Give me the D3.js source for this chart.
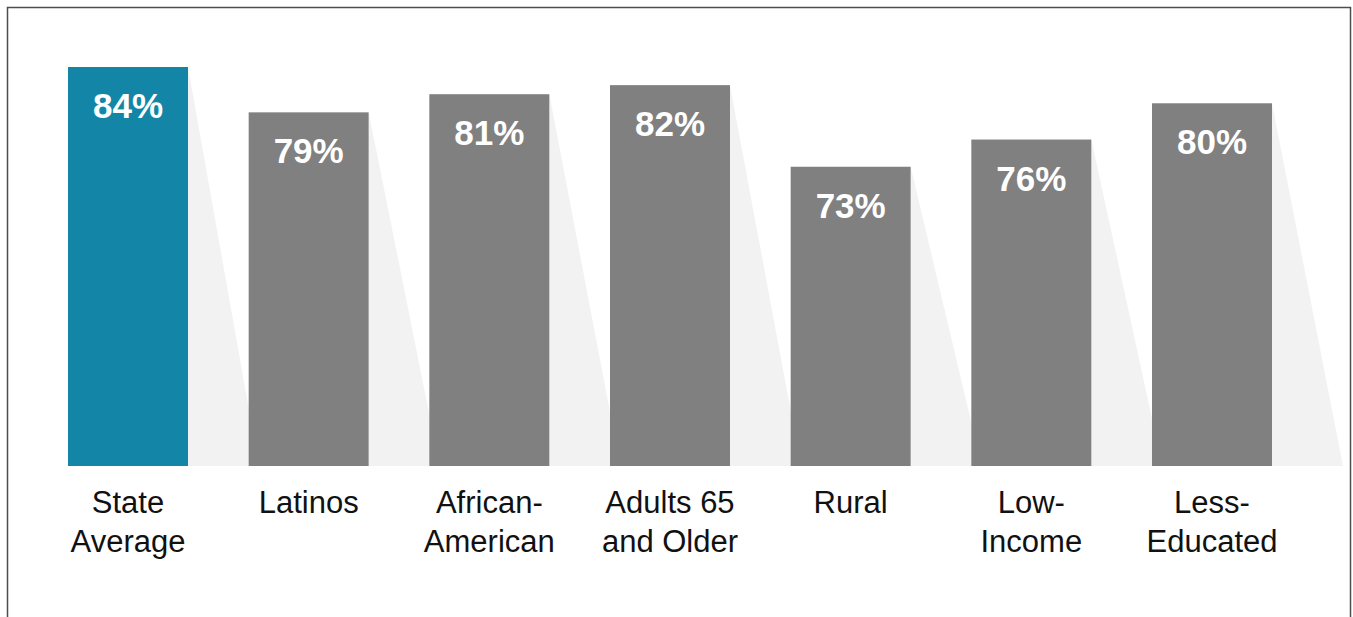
<!DOCTYPE html>
<html>
<head>
<meta charset="utf-8">
<script src="https://cdn.jsdelivr.net/npm/d3@7"></script>
<style>
  html, body { margin: 0; padding: 0; background: #fff; }
  svg { display: block; }
</style>
</head>
<body>
<script>
// chart data
const categories = ["State Average", "Latinos", "African-American", "Adults 65 and Older", "Rural", "Low-Income", "Less-Educated"];
const labelLines = [["State", "Average"], ["Latinos"], ["African-", "American"], ["Adults 65", "and Older"], ["Rural"], ["Low-", "Income"], ["Less-", "Educated"]];
const values = [84, 79, 81, 82, 73, 76, 80];

const width = 1353, height = 617;
const baseline = 466;

const svg = d3.select("body").append("svg")
  .attr("width", width)
  .attr("height", height);

// frame
svg.append("rect")
  .attr("x", 7.5).attr("y", 7.5)
  .attr("width", 1343).attr("height", 640)
  .attr("fill", "none")
  .attr("stroke", "#4d4d4d")
  .attr("stroke-width", 1.5);

const x = d3.scaleBand()
  .domain(categories)
  .range([68, 1272])
  .paddingInner(0.3358)
  .paddingOuter(0);

const y = d3.scaleLinear()
  .domain([40, 84])
  .range([baseline, 67]);

const shadowOffset = 71;

// shadows behind bars
svg.append("g").selectAll("path")
  .data(values)
  .join("path")
  .attr("d", (d, i) => {
    const r = x(categories[i]) + x.bandwidth();
    return `M${r},${y(d)}L${r + shadowOffset},${baseline}L${r},${baseline}Z`;
  })
  .attr("fill", "#f2f2f2");

// bars
svg.append("g").selectAll("rect")
  .data(values)
  .join("rect")
  .attr("x", (d, i) => x(categories[i]))
  .attr("y", d => y(d))
  .attr("width", x.bandwidth())
  .attr("height", d => baseline - y(d))
  .attr("fill", (d, i) => i === 0 ? "#1386a8" : "#808080");

// value labels
svg.append("g").selectAll("text")
  .data(values)
  .join("text")
  .attr("x", (d, i) => x(categories[i]) + x.bandwidth() / 2)
  .attr("y", d => y(d) + 51)
  .attr("text-anchor", "middle")
  .attr("font-family", "Liberation Sans, Arial, sans-serif")
  .attr("font-weight", "bold")
  .attr("font-size", 35)
  .attr("fill", "#fff")
  .text(d => d + "%");

// category labels
const cat = svg.append("g").selectAll("text")
  .data(categories)
  .join("text")
  .attr("x", d => x(d) + x.bandwidth() / 2)
  .attr("y", 513)
  .attr("text-anchor", "middle")
  .attr("font-family", "Liberation Sans, Arial, sans-serif")
  .attr("font-size", 31)
  .attr("fill", "#111");

cat.selectAll("tspan")
  .data((d, i) => labelLines[i])
  .join("tspan")
  .attr("x", function() { return this.parentNode.getAttribute("x"); })
  .attr("dy", (d, j) => j === 0 ? 0 : 39)
  .text(d => d);
</script>
</body>
</html>
